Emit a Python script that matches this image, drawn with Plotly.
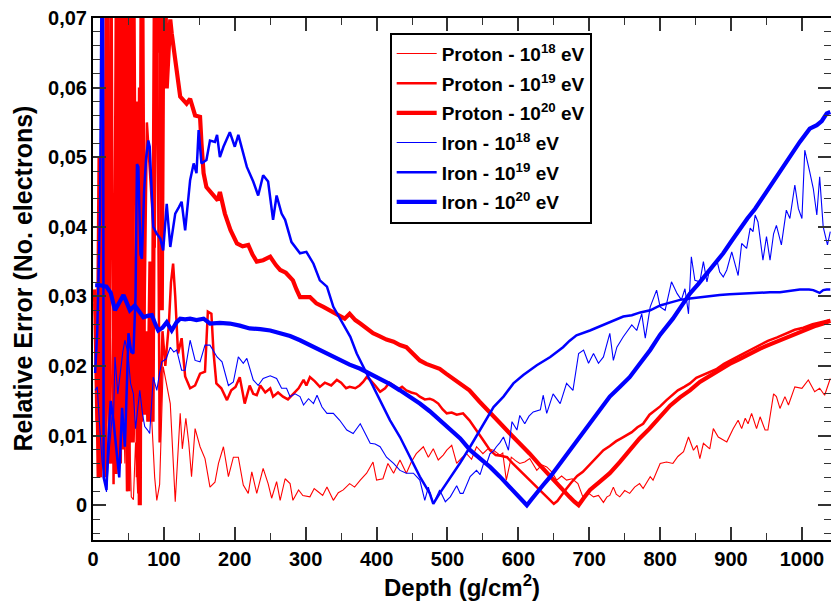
import plotly.graph_objects as go

# ---------------- data (depth in g/cm^2, relative error) ----------------
proton_1e18 = [(3,0.027),(6,0.019),(9,0.029),(12,0.011),(15,0.024),(18,0.008),(21,0.022),(24,0.027),(27,0.014),(30,0.021),(33,0.009),(36,0.02),(39,0.012),(42,0.017),(45,0.006),(48,0.024),(51,0.013),(54,0.0012),(57,0.0008),(60,0.009),(63,0.0017),(66,0.012),(69,0.018),(72,0.0225),(75,0.019),(78,0.020),(81,0.016),(84,0.0105),(87,0.004),(90,0.0007),(94,0.003),(99,0.0199),(104,0.017),(109,0.0146),(116,0.0005),(120,0.009),(123,0.0132),(126,0.0081),(131,0.0125),(135,0.009),(139,0.0041),(144,0.011),(151,0.0084),(158,0.0067),(165,0.0026),(172,0.0033),(177,0.006),(184,0.0084),(191,0.0041),(198,0.0069),(205,0.0069),(212,0.0029),(219,0.0017),(224,0.0048),(231,0.0017),(240,0.0053),(247,0.0031),(252,0.001),(259,0.0034),(264,0.0007),(271,0.0038),(278,0.0031),(282,0.0007),(290,0.0022),(296,0.0014),(306,0.0012),(312,0.0024),(318,0.0019),(324,0.0014),(330,0.0026),(339,0.0007),(346,0.0018),(353,0.0022),(362,0.0031),(369,0.0026),(377,0.0036),(386,0.0046),(395,0.0062),(400,0.0036),(409,0.0038),(416,0.006),(424,0.0046),(433,0.0065),(442,0.0046),(449,0.0062),(456,0.0074),(466,0.0084),(473,0.0069),(480,0.0081),(487,0.0065),(494,0.0072),(499,0.0079),(506,0.0086),(513,0.006),(520,0.0068),(527,0.0074),(534,0.0066),(541,0.0084),(550,0.0074),(557,0.0081),(565,0.0079),(574,0.0072),(578,0.0075),(583,0.0036),(590,0.0069),(596,0.0064),(602,0.006),(609,0.0062),(616,0.0067),(626,0.005),(633,0.0058),(640,0.0055),(647,0.0048),(654,0.0036),(661,0.0042),(668,0.0036),(676,0.0038),(684,0.0031),(691,0.0012),(698,0.0018),(706,0.0012),(713,0.0014),(720,0.0004),(725,0.0012),(729,0.0014),(734,0.0026),(738,0.0016),(743,0.0012),(750,0.0021),(757,0.0017),(764,0.0026),(771,0.0031),(776,0.0024),(786,0.0041),(790,0.0036),(800,0.006),(809,0.0062),(818,0.006),(825,0.007),(833,0.0077),(840,0.0098),(847,0.0079),(852,0.0086),(856,0.0067),(861,0.0089),(870,0.0081),(875,0.011),(882,0.0098),(894,0.0091),(903,0.011),(910,0.0122),(915,0.011),(920,0.0125),(924,0.0117),(929,0.0132),(936,0.011),(941,0.0127),(948,0.0108),(952,0.0108),(960,0.016),(964,0.0156),(969,0.0139),(976,0.0156),(981,0.0144),(990,0.017),(1000,0.0168),(1009,0.018),(1018,0.0163),(1025,0.0168),(1032,0.0158),(1040,0.0182)]

proton_1e19 = [(2,0.029),(5,0.012),(8,0.05),(11,0.004),(14,0.075),(17,0.009),(20,0.028),(23,0.006),(26,0.08),(29,0.003),(33,0.09),(36,0.01),(39,0.085),(42,0.008),(45,0.03),(48,0.002),(52,0.08),(55,0.012),(58,0.08),(62,0.004),(65,0.06),(69,0.012),(73,0.03),(76,0.055),(79,0.05),(83,0.043),(87,0.037),(90,0.08),(94,0.009),(98,0.025),(102,0.02),(107,0.026),(110,0.032),(113,0.0347),(116,0.03),(120,0.0218),(125,0.024),(130,0.0185),(137,0.0168),(144,0.0172),(151,0.0189),(158,0.0192),(162,0.0278),(167,0.0275),(170,0.022),(174,0.0175),(181,0.0168),(189,0.0151),(195,0.0165),(201,0.017),(207,0.0184),(214,0.0146),(221,0.0172),(226,0.016),(231,0.0158),(236,0.0172),(243,0.0162),(250,0.0168),(254,0.0156),(261,0.0162),(268,0.0156),(275,0.0152),(283,0.016),(290,0.0168),(297,0.018),(301,0.0172),(306,0.0184),(313,0.0178),(320,0.017),(327,0.0176),(336,0.0172),(344,0.018),(350,0.0176),(357,0.0168),(362,0.017),(370,0.0168),(376,0.0172),(381,0.0177),(386,0.0184),(391,0.018),(398,0.0172),(405,0.0163),(412,0.0168),(418,0.0176),(424,0.0172),(430,0.0166),(436,0.017),(442,0.0165),(449,0.0162),(456,0.016),(461,0.0156),(468,0.0152),(475,0.0153),(480,0.0151),(487,0.0146),(493,0.0138),(499,0.0132),(506,0.0133),(513,0.013),(522,0.0132),(531,0.0122),(541,0.0108),(550,0.0094),(560,0.0079),(568,0.0072),(575,0.0071),(584,0.0069),(592,0.006),(602,0.005),(611,0.0041),(621,0.0031),(631,0.0021),(640,0.0012),(645,0.0006),(650,0.0002),(655,0.0006),(661,0.0015),(668,0.0024),(675,0.0033),(683,0.0042),(691,0.0048),(700,0.0058),(710,0.0068),(720,0.0079),(729,0.0085),(738,0.0092),(745,0.0096),(752,0.01),(760,0.0105),(768,0.0112),(776,0.0117),(785,0.013),(793,0.0136),(800,0.0142),(809,0.0151),(817,0.0158),(825,0.0165),(834,0.017),(842,0.0175),(851,0.0183),(860,0.0187),(870,0.0192),(880,0.0196),(890,0.0203),(900,0.0208),(912,0.0215),(927,0.0223),(940,0.023),(952,0.0236),(965,0.0241),(978,0.0247),(990,0.0252),(1002,0.0255),(1015,0.026),(1027,0.0263),(1040,0.0266)]

proton_1e20 = [(2,0.031),(5,0.026),(8,0.004),(11,0.03),(14,0.009),(17,0.004),(20,0.09),(23,0.015),(26,0.006),(29,0.009),(32,0.0045),(35,0.09),(38,0.006),(41,0.09),(44,0.012),(47,0.09),(50,0.002),(53,0.09),(56,0.009),(60,0.025),(63,0.058),(66,0.0),(69,0.09),(72,0.013),(75,0.025),(78,0.012),(81,0.035),(84,0.012),(88,0.09),(91,0.065),(94,0.09),(97,0.028),(100,0.09),(103,0.072),(104,0.0599),(107,0.066),(109,0.0698),(111,0.0678),(117,0.063),(123,0.0587),(132,0.0577),(137,0.0584),(144,0.056),(151,0.0558),(153,0.052),(156,0.0477),(160,0.0457),(168,0.0448),(176,0.0438),(179,0.045),(186,0.0419),(194,0.0395),(203,0.0376),(211,0.0372),(219,0.0374),(225,0.036),(231,0.035),(240,0.0352),(250,0.0357),(258,0.0345),(264,0.0338),(272,0.0334),(282,0.0323),(287,0.031),(292,0.0299),(306,0.0299),(315,0.029),(325,0.0285),(336,0.0279),(348,0.0271),(355,0.0268),(362,0.0275),(370,0.0266),(377,0.0261),(386,0.0254),(395,0.0247),(404,0.0243),(414,0.0238),(424,0.0235),(433,0.023),(442,0.0227),(451,0.0218),(461,0.0208),(470,0.0203),(480,0.0199),(489,0.0196),(498,0.0189),(508,0.0182),(518,0.0175),(531,0.0165),(545,0.0149),(560,0.0132),(574,0.0118),(588,0.0103),(602,0.0089),(616,0.0074),(630,0.0058),(645,0.0041),(654,0.0032),(663,0.0022),(672,0.0012),(679,0.0005),(685,0.0),(692,0.001),(701,0.0022),(715,0.0034),(729,0.0046),(743,0.0062),(757,0.0079),(771,0.0096),(785,0.011),(800,0.0127),(814,0.0143),(828,0.0155),(842,0.0165),(856,0.0177),(870,0.0186),(884,0.0194),(898,0.0203),(912,0.021),(927,0.0218),(941,0.0225),(955,0.0231),(969,0.0237),(983,0.0243),(997,0.0249),(1007,0.0254),(1020,0.0258),(1030,0.0261),(1040,0.0265)]

iron_1e18 = [(3,0.0165),(6,0.017),(9,0.012),(13,0.006),(17,0.0036),(19,0.0019),(23,0.008),(27,0.0127),(29,0.0127),(31,0.0213),(35,0.016),(38,0.0189),(42,0.022),(45,0.0237),(49,0.022),(53,0.0175),(57,0.016),(60,0.011),(62,0.0127),(66,0.0165),(70,0.013),(73,0.0113),(77,0.0108),(80,0.0103),(85,0.0184),(90,0.0165),(94,0.019),(97,0.0206),(103,0.021),(109,0.0227),(114,0.022),(118,0.0223),(125,0.0194),(130,0.0194),(137,0.0237),(144,0.0208),(151,0.0206),(158,0.023),(165,0.023),(175,0.0213),(182,0.0206),(191,0.0172),(198,0.0177),(205,0.0213),(212,0.0204),(217,0.0211),(226,0.018),(233,0.0172),(240,0.0182),(250,0.0186),(259,0.0182),(266,0.0168),(273,0.0168),(278,0.0156),(285,0.016),(292,0.0156),(297,0.0144),(304,0.0153),(311,0.0146),(316,0.0158),(323,0.0141),(330,0.0132),(339,0.0132),(348,0.0122),(358,0.0108),(367,0.0103),(377,0.0117),(384,0.0103),(391,0.0089),(398,0.0088),(405,0.0084),(414,0.0069),(424,0.006),(433,0.005),(442,0.0046),(452,0.0046),(461,0.0036),(468,0.0007),(473,0.0026),(480,0.0002),(489,0.0022),(497,0.0005),(504,0.0012),(513,0.0028),(518,0.0017),(522,0.0017),(527,0.003),(532,0.0041),(541,0.005),(546,0.0044),(551,0.006),(556,0.0062),(560,0.0074),(565,0.0078),(569,0.0084),(574,0.009),(579,0.0098),(586,0.0079),(591,0.012),(598,0.0108),(602,0.0129),(609,0.0117),(615,0.0128),(621,0.0134),(631,0.0137),(635,0.0158),(640,0.0132),(649,0.016),(659,0.0146),(668,0.0175),(677,0.0165),(685,0.0218),(692,0.0223),(699,0.0204),(706,0.0218),(713,0.0204),(720,0.0213),(729,0.0247),(734,0.0208),(739,0.0227),(748,0.0242),(760,0.0259),(767,0.0251),(774,0.0275),(779,0.024),(786,0.0285),(795,0.0309),(800,0.0285),(807,0.028),(816,0.0321),(824,0.0304),(830,0.0295),(835,0.0311),(840,0.0275),(844,0.0357),(849,0.0323),(856,0.0321),(861,0.035),(866,0.0321),(870,0.034),(880,0.0352),(884,0.0335),(889,0.0328),(894,0.0338),(901,0.0364),(910,0.033),(915,0.0376),(922,0.0369),(927,0.0398),(931,0.0393),(934,0.0417),(938,0.0407),(945,0.0352),(950,0.0386),(955,0.0352),(960,0.039),(964,0.0402),(971,0.0374),(978,0.0424),(983,0.0412),(990,0.046),(995,0.0426),(1000,0.0412),(1004,0.051),(1011,0.0479),(1016,0.0455),(1021,0.0417),(1025,0.0472),(1030,0.04),(1036,0.0374),(1040,0.0393)]

iron_1e19 = [(3,0.019),(6,0.025),(10,0.0424),(12,0.075),(14,0.09),(15,0.004),(19,0.0022),(22,0.01),(25,0.015),(29,0.012),(33,0.008),(37,0.004),(41,0.014),(45,0.0084),(48,0.018),(50,0.0247),(54,0.022),(57,0.0218),(60,0.03),(62,0.049),(64,0.0486),(67,0.036),(69,0.0354),(72,0.045),(75,0.05),(78,0.0524),(80,0.0515),(85,0.04),(90,0.039),(95,0.0383),(99,0.0366),(104,0.0433),(109,0.0371),(116,0.0419),(121,0.0428),(125,0.0436),(130,0.0395),(137,0.0467),(142,0.0491),(146,0.0477),(149,0.0539),(153,0.0491),(160,0.0496),(165,0.0524),(172,0.0522),(175,0.0532),(179,0.05),(184,0.0515),(193,0.0536),(200,0.0515),(205,0.0532),(211,0.051),(217,0.0486),(226,0.0465),(233,0.0445),(240,0.0474),(247,0.0465),(254,0.041),(259,0.0445),(266,0.0419),(271,0.041),(280,0.0378),(292,0.0362),(301,0.0364),(311,0.0347),(320,0.0323),(330,0.0314),(339,0.0285),(353,0.0261),(363,0.0242),(372,0.0218),(386,0.0189),(395,0.017),(405,0.0151),(419,0.0122),(433,0.0098),(447,0.0069),(461,0.0041),(475,0.0017),(480,0.0002),(489,0.0017),(503,0.0038),(518,0.0061),(532,0.0084),(541,0.01),(551,0.0117),(565,0.0141),(579,0.0156),(593,0.0175),(607,0.0187),(616,0.0194),(626,0.0201),(645,0.0213),(654,0.022),(663,0.0227),(672,0.0236),(682,0.0244),(701,0.0251),(713,0.0256),(725,0.0261),(736,0.0266),(748,0.0271),(760,0.0273),(772,0.0277),(786,0.028),(800,0.0287),(814,0.0291),(828,0.0295),(842,0.0297),(856,0.0299),(870,0.03),(884,0.0302),(898,0.0303),(913,0.0304),(927,0.0305),(941,0.0305),(955,0.0306),(969,0.0306),(983,0.0308),(997,0.031),(1010,0.031),(1016,0.0309),(1025,0.0305),(1030,0.0309),(1035,0.031),(1040,0.031)]

iron_1e20 = [(3,0.0316),(10,0.0316),(19,0.0314),(25,0.0305),(31,0.028),(37,0.029),(43,0.0302),(48,0.029),(52,0.028),(59,0.0287),(65,0.0278),(71,0.027),(77,0.0272),(83,0.0273),(88,0.026),(92,0.0251),(98,0.0255),(104,0.0263),(111,0.0251),(118,0.0263),(123,0.0268),(130,0.0267),(137,0.0268),(146,0.0266),(156,0.0268),(165,0.0261),(179,0.0262),(193,0.0261),(207,0.0258),(221,0.0254),(236,0.0253),(250,0.0251),(264,0.0247),(278,0.0243),(292,0.0237),(306,0.023),(320,0.0223),(334,0.0216),(348,0.0208),(362,0.0202),(377,0.0196),(391,0.0189),(405,0.0182),(419,0.0174),(433,0.0165),(447,0.0156),(461,0.0146),(475,0.0135),(489,0.0122),(503,0.011),(518,0.0096),(532,0.0079),(546,0.0067),(560,0.0055),(574,0.0041),(588,0.0026),(600,0.0013),(612,0.0),(619,0.0009),(626,0.0017),(635,0.0029),(645,0.0041),(659,0.006),(673,0.0079),(687,0.0098),(701,0.0117),(715,0.0136),(729,0.0156),(743,0.017),(757,0.0184),(771,0.0203),(786,0.0223),(800,0.0245),(818,0.0268),(830,0.0286),(842,0.0304),(854,0.0318),(866,0.0333),(878,0.0347),(889,0.0362),(901,0.038),(913,0.0398),(923,0.0412),(934,0.0426),(942,0.0438),(950,0.045),(960,0.0466),(969,0.0481),(983,0.05),(997,0.0522),(1011,0.0541),(1021,0.0546),(1028,0.0552),(1035,0.0563),(1040,0.0565)]

series_names = ["Proton - 10<sup>18</sup> eV", "Proton - 10<sup>19</sup> eV", "Proton - 10<sup>20</sup> eV",
                "Iron - 10<sup>18</sup> eV", "Iron - 10<sup>19</sup> eV", "Iron - 10<sup>20</sup> eV"]
series_data = [proton_1e18, proton_1e19, proton_1e20, iron_1e18, iron_1e19, iron_1e20]

x_tick_vals = [0, 100, 200, 300, 400, 500, 600, 700, 800, 900, 1000]
x_tick_text = ["0", "100", "200", "300", "400", "500", "600", "700", "800", "900", "1000"]
y_tick_vals = [0, 0.01, 0.02, 0.03, 0.04, 0.05, 0.06, 0.07]
y_tick_text = ["0", "0,01", "0,02", "0,03", "0,04", "0,05", "0,06", "0,07"]
x_title = "Depth (g/cm<sup>2</sup>)"
y_title = "Relative Error (No. electrons)"

# ---------------- styling ----------------
colors = ["#ff0000", "#ff0000", "#ff0000", "#0000ff", "#0000ff", "#0000ff"]
widths = [1.1, 2.5, 4.2, 1.1, 2.5, 4.2]
FONT = "Liberation Sans, Arial, sans-serif"

fig = go.Figure()
for i, (name, data, c, w) in enumerate(zip(series_names, series_data, colors, widths)):
    xs = [p[0] for p in data]
    ys = [p[1] for p in data]
    fig.add_trace(go.Scatter(x=xs, y=ys, mode="lines", name=name, legendgroup=f"g{i}",
                             line=dict(color=c, width=w)))

axis_common = dict(showline=True, linecolor="black", linewidth=2, mirror="allticks",
                   ticks="inside", tickcolor="#333", tickwidth=1.5, ticklen=13,
                   showgrid=False, zeroline=False, automargin=False,
                   tickfont=dict(family=FONT, size=20, color="black", weight="bold"))

fig.update_layout(
    width=831, height=608,
    margin=dict(l=93, r=0, t=18, b=68),
    paper_bgcolor="white", plot_bgcolor="white",
    font=dict(family=FONT, color="black"),
    xaxis=dict(range=[0, 1041], tickmode="array", tickvals=x_tick_vals, ticktext=x_tick_text,
               minor=dict(tickmode="linear", tick0=0, dtick=50, ticks="inside", ticklen=7,
                          tickwidth=1.2, tickcolor="#333"),
               title=dict(text=x_title, standoff=10,
                          font=dict(family=FONT, size=24, color="black", weight="bold")),
               **axis_common),
    yaxis=dict(range=[-0.005, 0.07], tickmode="array", tickvals=y_tick_vals, ticktext=y_tick_text,
               minor=dict(tickmode="linear", tick0=0, dtick=0.002, ticks="inside", ticklen=7,
                          tickwidth=1.2, tickcolor="#333"),
               **axis_common),
    legend=dict(x=0.402, y=0.972, xanchor="left", yanchor="top",
                bgcolor="white", bordercolor="black", borderwidth=2,
                font=dict(family=FONT, size=19, color="black", weight="bold"),
                tracegroupgap=2, itemwidth=40),
    annotations=[dict(text=y_title, textangle=-90, xref="paper", yref="paper",
                      x=-0.0955, y=0.5, xanchor="center", yanchor="middle", showarrow=False,
                      font=dict(family=FONT, size=25, color="black", weight="bold"))],
)

fig.write_html("out.html", config={"displayModeBar": False},
               post_script="document.body.style.margin='0';document.body.style.padding='0';")
